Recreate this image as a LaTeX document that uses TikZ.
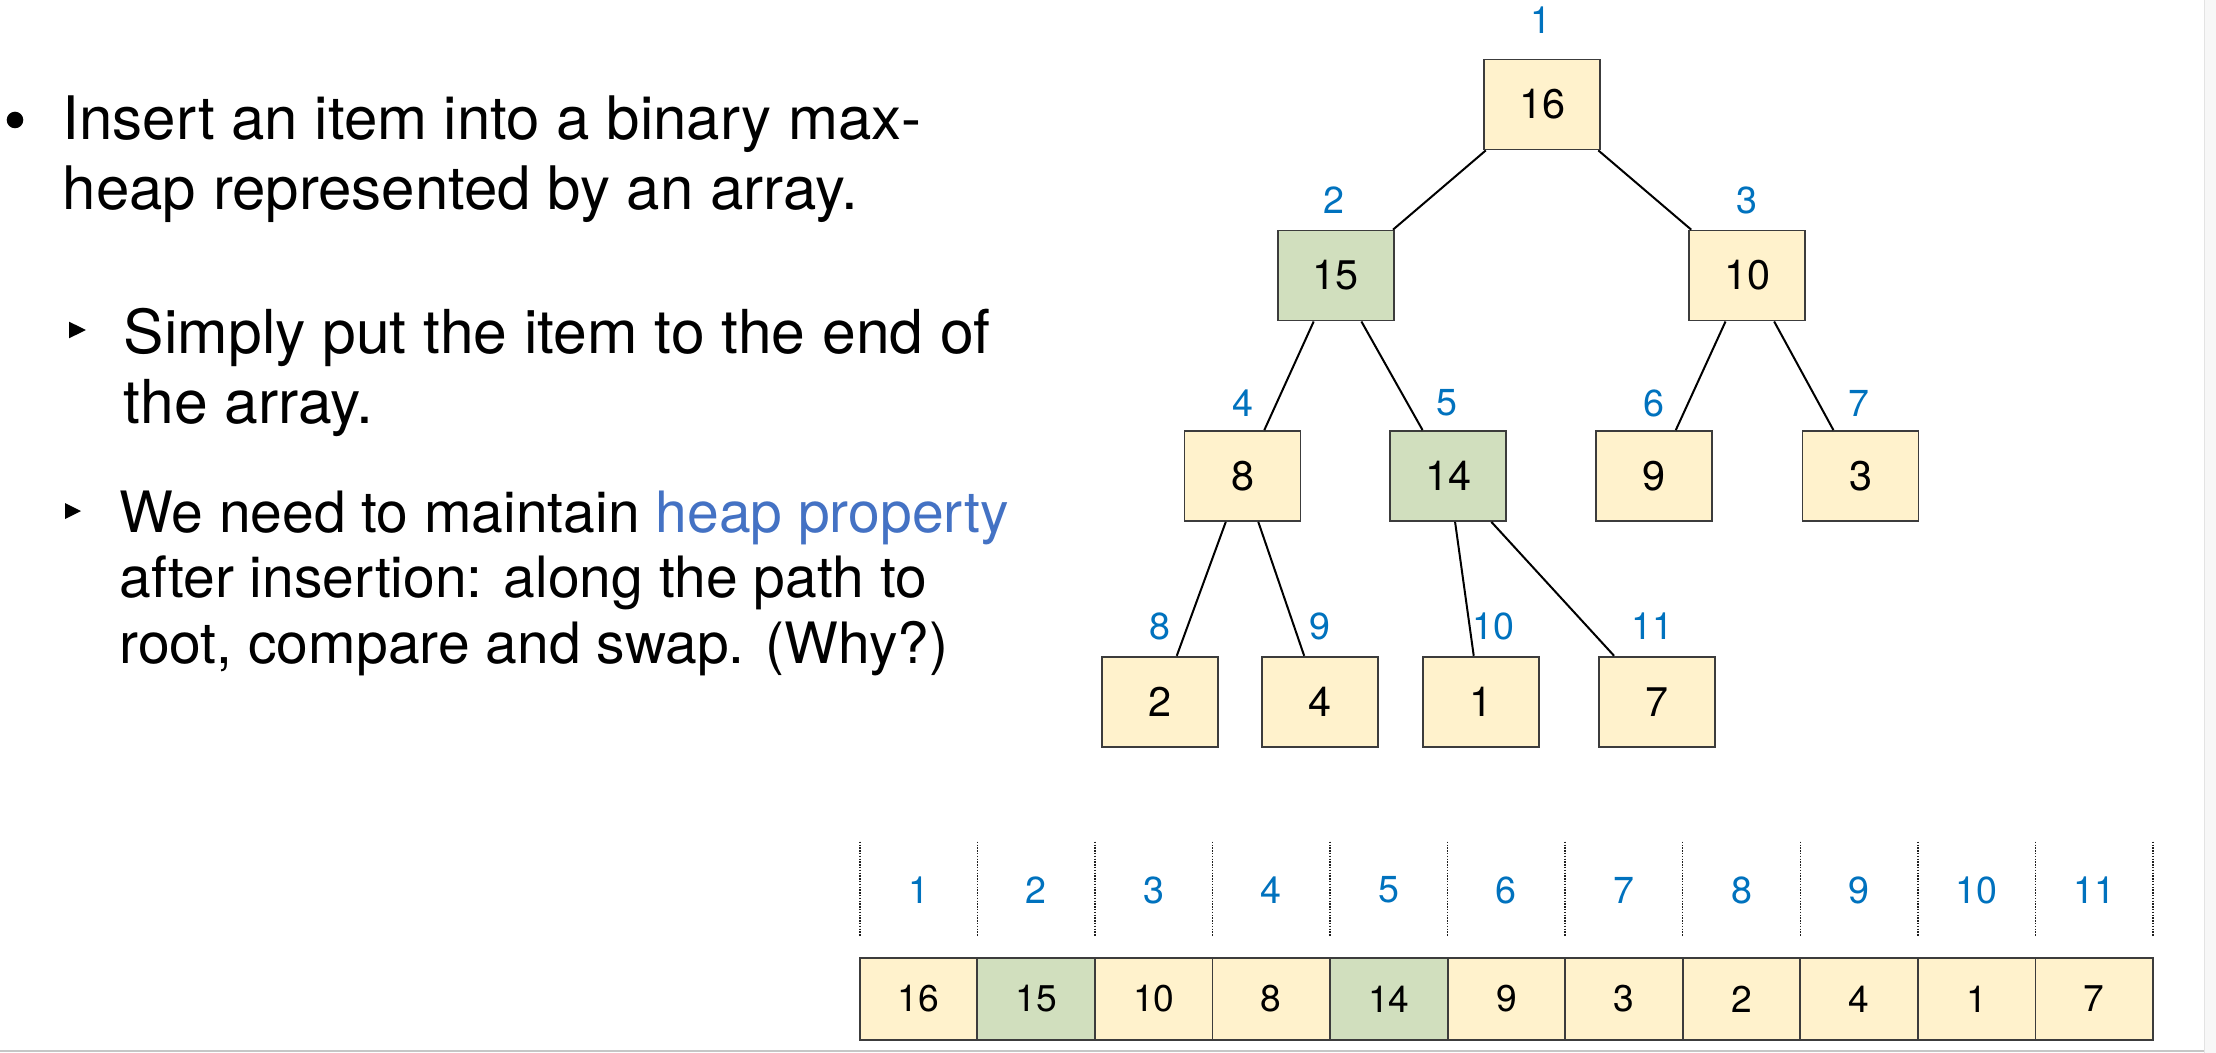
\documentclass[tikz,border=0pt]{standalone}
\usepackage{fontspec}
\setmainfont{TeX Gyre Heros}
\usetikzlibrary{calc}
\definecolor{cream}{RGB}{255,242,204}
\definecolor{sage}{RGB}{209,223,190}
\definecolor{idxblue}{RGB}{0,114,190}
\definecolor{propblue}{RGB}{68,114,196}
\definecolor{edgegray}{RGB}{60,60,60}
\tikzset{
 treebox/.style={draw=edgegray, line width=0.9pt, minimum width=58pt, minimum height=45pt, inner sep=0pt, font=\fontsize{20.7}{24}\selectfont},
 cell/.style={draw=edgegray, line width=0.9pt, minimum width=58.78pt, minimum height=41.15pt, inner sep=0pt, font=\fontsize{18.6}{22}\selectfont},
 idx/.style={text=idxblue, inner sep=0pt, font=\fontsize{18.8}{22}\selectfont},
 body/.style={anchor=base west, inner sep=0pt, font=\fontsize{30}{36}\selectfont},
 bodym/.style={anchor=base west, inner sep=0pt, font=\fontsize{30.3}{36}\selectfont},
 bodys/.style={anchor=base west, inner sep=0pt, font=\fontsize{28.5}{34}\selectfont},
 link/.style={line width=1pt, black},
 sep/.style={line width=0.7pt, gray!25!black, dash pattern=on 0.7pt off 0.7pt},
}
\begin{document}
\begin{tikzpicture}[x=0.5pt, y=-0.5pt]
\useasboundingbox (0,0) rectangle (2216,1053);
\fill[white] (0,0) rectangle (2216,1053);
% slide frame
\fill[gray!6] (2204,0) rectangle (2216,1053);
\draw[gray!22, line width=0.5pt] (2204,0) -- (2204,1053);
\draw[gray!45, line width=1pt] (0,1050.5) -- (2204,1050.5);

% left text
\fill (15,120) circle[radius=4.15pt];
\node[body] (t1) at (62.5,140) {Insert an item into a binary max-};
\node[body] (t2) at (62.5,210) {heap represented by an array.};
\fill (69,321.7) -- (69,338.3) -- (86,330) -- cycle;
\node[bodym] (t3) at (123.5,353.3) {Simply put the item to the end of};
\node[bodym] (t4) at (123.5,423.3) {the array.};
\fill (65,503) -- (65,519) -- (81,511) -- cycle;
\node[bodys] (t5) at (119,532) {We need to maintain \textcolor{propblue}{heap property}};
\node[bodys] (t6) at (119,597.5) {after insertion: along the path to};
\node[bodys] (t7) at (119,663) {root, compare and swap. (Why?)};

% tree
\node[treebox, fill=cream] (n1) at (1542,104.5) {16};
\node[treebox, fill=sage]  (n2) at (1335.6,275.6) {15};
\node[treebox, fill=cream] (n3) at (1747.3,275.6) {10};
\node[treebox, fill=cream] (n4) at (1242.5,476) {8};
\node[treebox, fill=sage]  (n5) at (1448,476) {14};
\node[treebox, fill=cream] (n6) at (1654,476) {9};
\node[treebox, fill=cream] (n7) at (1860.5,476) {3};
\node[treebox, fill=cream] (n8) at (1159.8,701.7) {2};
\node[treebox, fill=cream] (n9) at (1320.3,701.7) {4};
\node[treebox, fill=cream] (n10) at (1480.8,701.7) {1};
\node[treebox, fill=cream] (n11) at (1657.3,701.7) {7};

\node[idx] (l1) at (1541,20) {1};
\node[idx] (l2) at (1334,200.5) {2};
\node[idx] (l3) at (1747,200.5) {3};
\node[idx] (l4) at (1243,403) {4};
\node[idx] (l5) at (1447,403) {5};
\node[idx] (l6) at (1653.6,403) {6};
\node[idx] (l7) at (1858.5,403) {7};
\node[idx] (l8) at (1159.5,626.5) {8};
\node[idx] (l9) at (1320,626.5) {9};
\node[idx] (l10) at (1493,626.5) {10};
\node[idx] (l11) at (1652,626.5) {11};

\draw[link] ($(n1.south west)!0.023!(n1.south east)$) -- ($(n2.north west)!0.987!(n2.north east)$);
\draw[link] ($(n1.south west)!0.978!(n1.south east)$) -- ($(n3.north west)!0.024!(n3.north east)$);
\draw[link] ($(n2.south west)!0.314!(n2.south east)$) -- ($(n4.north west)!0.685!(n4.north east)$);
\draw[link] ($(n2.south west)!0.719!(n2.south east)$) -- ($(n5.north west)!0.284!(n5.north east)$);
\draw[link] ($(n3.south west)!0.315!(n3.south east)$) -- ($(n6.north west)!0.685!(n6.north east)$);
\draw[link] ($(n3.south west)!0.728!(n3.south east)$) -- ($(n7.north west)!0.27!(n7.north east)$);
\draw[link] ($(n4.south west)!0.358!(n4.south east)$) -- ($(n8.north west)!0.644!(n8.north east)$);
\draw[link] ($(n4.south west)!0.634!(n4.south east)$) -- ($(n9.north west)!0.363!(n9.north east)$);
\draw[link] ($(n5.south west)!0.56!(n5.south east)$) -- ($(n10.north west)!0.44!(n10.north east)$);
\draw[link] ($(n5.south west)!0.868!(n5.south east)$) -- ($(n11.north west)!0.133!(n11.north east)$);

% array
\foreach \k in {0,...,11} {
  \draw[sep] (859.8+117.56*\k,841.7) -- (859.8+117.56*\k,936.7);
}
\foreach \v/\c [count=\i] in {16/cream,15/sage,10/cream,8/cream,14/sage,9/cream,3/cream,2/cream,4/cream,1/cream,7/cream} {
  \node[cell, fill=\c] (a\i) at (859.8+117.56*\i-58.78,998.85) {\v};
  \node[idx] (ai\i) at (859.8+117.56*\i-58.78,890) {\i};
}
\end{tikzpicture}
\end{document}
